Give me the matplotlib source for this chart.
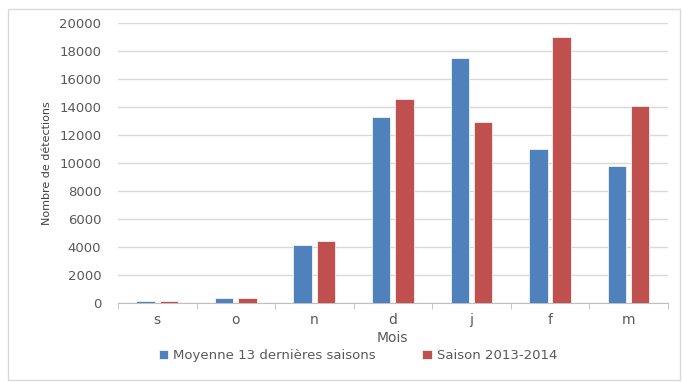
import numpy as np
import matplotlib
matplotlib.use("Agg")
import matplotlib.pyplot as plt
from matplotlib.patches import Rectangle

mois = ["s", "o", "n", "d", "j", "f", "m"]
moyenne = [120, 350, 4150, 13300, 17500, 11000, 9800]
saison = [120, 350, 4450, 14550, 12900, 19000, 14100]

bleu = "#4F81BD"
rouge = "#C0504D"
gris = "#595959"

fig = plt.figure(figsize=(6.82, 3.82), dpi=100)
ax = fig.add_axes([0.173, 0.2068, 0.806, 0.733])

x = np.arange(len(mois))
w = 0.235
ax.bar(x - w / 2 - 0.03, moyenne, w, color=bleu, edgecolor="white", linewidth=0.5,
       label="Moyenne 13 dernières saisons", zorder=3)
ax.bar(x + w / 2 + 0.03, saison, w, color=rouge, edgecolor="white", linewidth=0.5,
       label="Saison 2013-2014", zorder=3)

ax.set_xlim(-0.5, len(mois) - 0.5)
ax.set_ylim(0, 20000)
ax.set_yticks(np.arange(0, 20001, 2000))
ax.yaxis.grid(True, color="#D9D9D9", linewidth=1)
ax.set_axisbelow(True)
for s in ["top", "right", "left"]:
    ax.spines[s].set_visible(False)
ax.spines["bottom"].set_color("#BFBFBF")

ax.set_xticks(x)
ax.set_xticklabels(mois)
ax.set_xticks(np.arange(-0.5, len(mois)), minor=True)
ax.tick_params(axis="x", which="major", length=0, pad=7, labelsize=10, labelcolor=gris)
ax.tick_params(axis="x", which="minor", length=4, color="#BFBFBF")
ax.tick_params(axis="y", length=0, pad=12, labelsize=9.5, labelcolor=gris)

ax.set_xlabel("Mois", fontsize=10, color=gris, labelpad=3)
ax.set_ylabel("Nombre de détections", fontsize=8, color="#404040", labelpad=5)

leg = fig.legend(loc="lower center", bbox_to_anchor=(0.525, 0.02), ncol=2, frameon=False,
                 fontsize=9.5, handlelength=0.7, handleheight=0.7, columnspacing=3.5,
                 handletextpad=0.4)
for t in leg.get_texts():
    t.set_color(gris)

fig.patches.append(Rectangle((0.012, 0.005), 0.985, 0.972, transform=fig.transFigure,
                             fill=False, edgecolor="#D9D9D9", linewidth=1))

fig.savefig("out.png", dpi=100)
